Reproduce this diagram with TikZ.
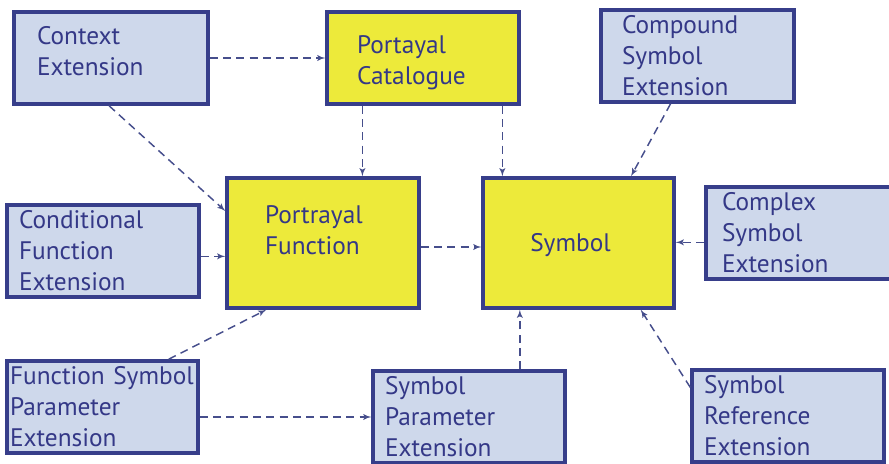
\documentclass[tikz,border=0pt]{standalone}
\usepackage{fontspec}
\setmainfont{PT Sans}
\usepackage{tikz}
\usetikzlibrary{calc, arrows}

\definecolor{extfill}{RGB}{206,216,235}
\definecolor{corefill}{RGB}{237,234,58}
\definecolor{boxline}{RGB}{55,62,138}
\definecolor{txt}{RGB}{52,56,135}
\definecolor{arrowc}{RGB}{70,78,140}
\newcommand{\boxfont}{\fontsize{19}{23.25}\selectfont}

\begin{document}
\begin{tikzpicture}[x=0.75pt,y=-0.75pt,>=latex',
  ext/.style={draw=boxline,fill=extfill,line width=2.6pt,align=left,text=txt,font=\boxfont,minimum height=69pt,inner ysep=0pt},
  core/.style={ext,fill=corefill},
  dep/.style={->,dash pattern=on 6pt off 4pt,line width=1.1pt,draw=arrowc}]
\useasboundingbox (0,0) rectangle (889,464);
\draw node [ext,text width=111pt,inner xsep=17.25pt] (ctx) at (111,58) {Context\\Extension\rule[-10pt]{0pt}{0pt}};
\draw node [core,text width=99pt,inner xsep=22.5pt] (pc) at (423,58) {\rule{0pt}{20pt}Portayal\\Catalogue};
\draw node [ext,text width=113.25pt,inner xsep=15.75pt] (cmp) at (697.5,56) {Compound\\Symbol\\Extension};
\draw node [core,text width=87pt,inner xsep=28.5pt,minimum height=97.5pt] (pf) at (323,243) {Portrayal\\Function\rule[-19pt]{0pt}{0pt}};
\draw node [core,align=center,minimum width=143.25pt,minimum height=97.5pt] (sym) at (578.5,243) {\rule{0pt}{17pt}Symbol\hspace*{12pt}};
\draw node [ext,text width=126pt,inner xsep=9pt] (cond) at (103,251) {Conditional\\Function\\Extension};
\draw node [ext,text width=116.25pt,inner xsep=12pt] (cplx) at (799.5,233) {Complex\\Symbol\\Extension};
\draw node [ext,text width=138.75pt,inner xsep=2.25pt] (fsp) at (102.5,407) {Function~Symbol\\Parameter\\Extension};
\draw node [ext,text width=126pt,inner xsep=9pt] (spe) at (469,417) {Symbol\\Parameter\\Extension};
\draw node [ext,text width=126pt,inner xsep=9pt] (sre) at (788,416) {Symbol\\Reference\\Extension};
% anchor points on the box edges
\coordinate (pcA) at ($(pc.south west)!0.19!(pc.south east)$);
\coordinate (pcB) at ($(pc.south west)!0.906!(pc.south east)$);
\coordinate (spA) at ($(spe.north west)!0.76!(spe.north east)$);
\draw [dep] (ctx.east) -- (pc.west);
\draw [dep] ($(ctx.south west)!0.49!(ctx.south east)$) -- ($(pf.north west)!0.26!(pf.south west)$);
\draw [dep] (pcA) -- (pcA |- pf.north);
\draw [dep] (pcB) -- (pcB |- sym.north);
\draw [dep] ($(cmp.south west)!0.363!(cmp.south east)$) -- ($(sym.north west)!0.77!(sym.north east)$);
\draw [dep] ([yshift=-4pt]cond.east) -- ([yshift=-4pt]cond.east -| pf.west);
\draw [dep] ($(fsp.north west)!0.84!(fsp.north east)$) -- ($(pf.south west)!0.21!(pf.south east)$);
\draw [dep] ([yshift=-3pt]pf.east) -- ([yshift=-3pt]pf.east -| sym.west);
\draw [dep] ([yshift=-7pt]cplx.west) -- ([yshift=-7pt]cplx.west -| sym.east);
\draw [dep] (spA) -- (spA |- sym.south);
\draw [dep] ($(sre.north west)!0.2!(sre.south west)$) -- ($(sym.south west)!0.82!(sym.south east)$);
\draw [dep] ([yshift=-7.5pt]fsp.east) -- ([yshift=-7.5pt]fsp.east -| spe.west);
\end{tikzpicture}
\end{document}
